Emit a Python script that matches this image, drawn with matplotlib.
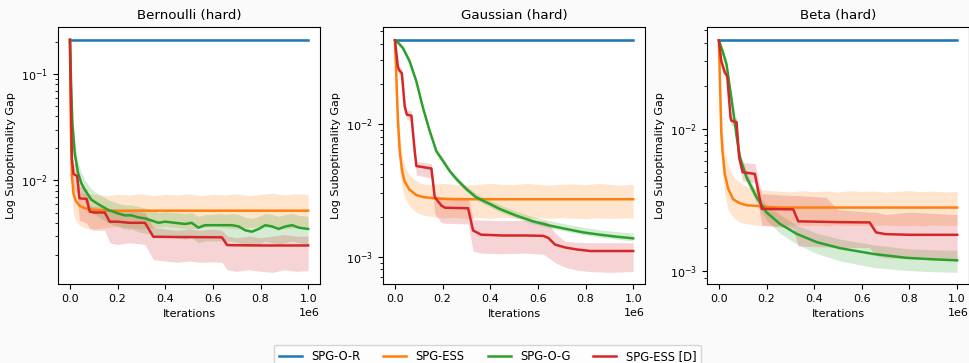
import numpy as np
import matplotlib
matplotlib.use("Agg")
import matplotlib.pyplot as plt

# x values are in millions of iterations
labels = ["SPG-O-R", "SPG-ESS", "SPG-O-G", "SPG-ESS [D]"]
colors = ["tab:blue", "tab:orange", "tab:green", "tab:red"]
titles = ["Bernoulli (hard)", "Gaussian (hard)", "Beta (hard)"]

# ---------------- Bernoulli ----------------
bern_x_blue = [0, 1.0]
bern_blue = [0.21, 0.21]
bern_blue_lo = [0.205, 0.205]
bern_blue_hi = [0.215, 0.215]

bern_x_orange = [0, 0.004, 0.008, 0.015, 0.025, 0.04, 0.06, 0.1, 0.15, 0.2, 0.25, 0.3, 0.35,
                 0.4, 0.45, 0.5, 0.55, 0.6, 0.65, 0.7, 0.75, 0.8, 0.85, 0.9, 0.95, 1.0]
bern_orange = [0.21, 0.03, 0.011, 0.0075, 0.0064, 0.0058, 0.0055, 0.0053, 0.0052, 0.0052,
               0.0052, 0.0052, 0.0052, 0.0052, 0.0052, 0.0052, 0.0052, 0.0052, 0.0052, 0.0052,
               0.0052, 0.0052, 0.0052, 0.0052, 0.0052, 0.0052]
bern_orange_hi = [0.215, 0.045, 0.016, 0.0098, 0.0085, 0.0078, 0.0075, 0.0074, 0.0072, 0.0074,
                  0.0073, 0.0075, 0.0072, 0.0074, 0.0073, 0.0075, 0.0072, 0.0074, 0.0073, 0.0075,
                  0.0072, 0.0074, 0.0076, 0.0073, 0.0075, 0.0074]
bern_orange_lo = [0.205, 0.018, 0.0072, 0.0048, 0.0042, 0.0038, 0.0036, 0.0035, 0.0036, 0.0037,
                  0.0036, 0.0035, 0.0036, 0.0037, 0.0036, 0.0035, 0.0036, 0.0037, 0.0036, 0.0035,
                  0.0036, 0.0037, 0.0036, 0.0035, 0.0036, 0.0036]

bern_x_green = [0, 0.005, 0.01, 0.02, 0.034, 0.048, 0.062, 0.09, 0.118, 0.16, 0.202, 0.23, 0.258,
                0.287, 0.315, 0.343, 0.371, 0.399, 0.441, 0.483, 0.511, 0.539, 0.567, 0.596,
                0.624, 0.652, 0.68, 0.708, 0.736, 0.764, 0.792, 0.82, 0.848, 0.876, 0.905,
                0.933, 0.961, 1.0]
bern_green = [0.21, 0.08, 0.035, 0.018, 0.0118, 0.0094, 0.0082, 0.0066, 0.006, 0.0053, 0.0049,
              0.0047, 0.0047, 0.0045, 0.0044, 0.0042, 0.004, 0.0041, 0.004, 0.0039, 0.004,
              0.0036, 0.0038, 0.0038, 0.0038, 0.0038, 0.0038, 0.0037, 0.0034, 0.0033, 0.0035,
              0.0038, 0.0037, 0.0035, 0.0037, 0.0038, 0.0036, 0.0035]
bern_green_hi = [0.215, 0.1, 0.045, 0.023, 0.0148, 0.0118, 0.0102, 0.0083, 0.0075, 0.0066,
                 0.0061, 0.0059, 0.0059, 0.0057, 0.0055, 0.0053, 0.005, 0.0051, 0.005, 0.0049,
                 0.005, 0.0046, 0.0048, 0.0048, 0.0049, 0.0048, 0.0049, 0.0048, 0.0045, 0.0044,
                 0.0046, 0.0049, 0.0048, 0.0046, 0.0048, 0.0049, 0.0047, 0.0046]
bern_green_lo = [0.205, 0.06, 0.027, 0.014, 0.0092, 0.0074, 0.0064, 0.0051, 0.0046, 0.004,
                 0.0037, 0.0035, 0.0035, 0.0033, 0.0032, 0.0031, 0.0029, 0.003, 0.0029, 0.0028,
                 0.0029, 0.0026, 0.0027, 0.0027, 0.0027, 0.0027, 0.0027, 0.0026, 0.0024, 0.0024,
                 0.0025, 0.0027, 0.0026, 0.0025, 0.0026, 0.0027, 0.0026, 0.0025]

bern_x_red = [0, 0.008, 0.015, 0.03, 0.04, 0.07, 0.083, 0.1, 0.146, 0.167, 0.2, 0.25, 0.315,
              0.35, 0.4, 0.45, 0.5, 0.55, 0.6, 0.638, 0.66, 0.7, 0.75, 0.8, 0.85, 0.9, 0.95, 1.0]
bern_red = [0.21, 0.016, 0.0115, 0.011, 0.0068, 0.0067, 0.0051, 0.005, 0.005, 0.0041, 0.0041,
            0.004, 0.004, 0.00296, 0.00295, 0.00294, 0.00294, 0.00293, 0.00293, 0.00292,
            0.00247, 0.00246, 0.00246, 0.00245, 0.00245, 0.00245, 0.00245, 0.00245]
bern_red_hi = [0.215, 0.021, 0.0145, 0.014, 0.0088, 0.0085, 0.0058, 0.0057, 0.0056, 0.0052,
               0.0051, 0.0052, 0.005, 0.0036, 0.0035, 0.0034, 0.0035, 0.0034, 0.0035, 0.0034,
               0.003, 0.0029, 0.003, 0.0029, 0.003, 0.0031, 0.003, 0.003]
bern_red_lo = [0.205, 0.011, 0.0085, 0.0075, 0.0042, 0.004, 0.0035, 0.0034, 0.0034, 0.0026,
               0.0025, 0.0026, 0.0025, 0.0018, 0.00175, 0.0017, 0.00175, 0.0017, 0.00172, 0.0017,
               0.00145, 0.0014, 0.00145, 0.0014, 0.00137, 0.00145, 0.0014, 0.00142]

# ---------------- Gaussian ----------------
gaus_x_blue = [0, 1.0]
gaus_blue = [0.0425, 0.0425]
gaus_blue_lo = [0.0413, 0.0413]
gaus_blue_hi = [0.0437, 0.0437]

gaus_x_orange = [0, 0.005, 0.012, 0.02, 0.03, 0.04, 0.06, 0.09, 0.12, 0.16, 0.2, 0.25, 0.3,
                 0.35, 0.4, 0.45, 0.5, 0.55, 0.6, 0.65, 0.7, 0.75, 0.8, 0.85, 0.9, 0.95, 1.0]
gaus_orange = [0.0425, 0.025, 0.011, 0.0062, 0.0044, 0.0037, 0.0032, 0.0029, 0.0028, 0.00275,
               0.00272, 0.0027, 0.0027, 0.0027, 0.0027, 0.0027, 0.0027, 0.0027, 0.0027, 0.0027,
               0.0027, 0.0027, 0.0027, 0.0027, 0.0027, 0.0027, 0.0027]
gaus_orange_hi = [0.043, 0.03, 0.014, 0.0082, 0.0058, 0.0048, 0.0041, 0.0037, 0.0035, 0.0035,
                  0.00355, 0.0035, 0.00345, 0.0035, 0.00355, 0.0035, 0.00348, 0.00355, 0.0035,
                  0.00345, 0.0035, 0.00352, 0.00348, 0.00355, 0.0035, 0.00345, 0.0035]
gaus_orange_lo = [0.042, 0.02, 0.0083, 0.0045, 0.0033, 0.0028, 0.0024, 0.00215, 0.00205, 0.002,
                  0.00195, 0.00197, 0.00193, 0.00196, 0.00194, 0.00197, 0.00195, 0.00193,
                  0.00196, 0.00194, 0.00197, 0.00195, 0.00193, 0.00196, 0.00194, 0.00195, 0.00196]

gaus_x_green = [0, 0.015, 0.034, 0.062, 0.09, 0.118, 0.146, 0.174, 0.2, 0.23, 0.26, 0.3, 0.34,
                0.37, 0.4, 0.44, 0.51, 0.58, 0.65, 0.72, 0.79, 0.86, 0.93, 1.0]
gaus_green = [0.0425, 0.0405, 0.037, 0.0294, 0.0208, 0.0131, 0.0088, 0.0062, 0.0053, 0.0044,
              0.0038, 0.00322, 0.0028, 0.00263, 0.00248, 0.00228, 0.00203, 0.00184, 0.00171,
              0.00161, 0.00152, 0.00146, 0.00141, 0.00137]
gaus_green_hi = [0.0428, 0.0415, 0.0385, 0.0307, 0.0218, 0.0137, 0.0092, 0.0065, 0.0056, 0.0046,
                 0.004, 0.0034, 0.00298, 0.0028, 0.00265, 0.00245, 0.00219, 0.00199, 0.00186,
                 0.00175, 0.00166, 0.00159, 0.00154, 0.0015]
gaus_green_lo = [0.0422, 0.0395, 0.0355, 0.0281, 0.0198, 0.0125, 0.0084, 0.0059, 0.005, 0.0042,
                 0.0036, 0.00308, 0.00268, 0.0025, 0.00236, 0.00217, 0.00194, 0.00176, 0.00164,
                 0.00155, 0.00146, 0.0014, 0.00135, 0.00131]

gaus_x_red = [0, 0.012, 0.017, 0.029, 0.041, 0.05, 0.069, 0.083, 0.09, 0.153, 0.167, 0.195,
              0.21, 0.307, 0.328, 0.362, 0.45, 0.55, 0.623, 0.644, 0.672, 0.714, 0.763, 0.82,
              0.9, 1.0]
gaus_red = [0.0425, 0.027, 0.0254, 0.024, 0.0135, 0.0117, 0.0115, 0.0062, 0.0048, 0.0046, 0.0028,
            0.00242, 0.00233, 0.00231, 0.00157, 0.00146, 0.00144, 0.00144, 0.00143, 0.00138,
            0.00123, 0.00117, 0.00113, 0.0011, 0.0011, 0.0011]
gaus_red_hi = [0.0428, 0.029, 0.0272, 0.026, 0.0147, 0.0127, 0.0125, 0.007, 0.0052, 0.005,
               0.0029, 0.0028, 0.0028, 0.0028, 0.0019, 0.00188, 0.00186, 0.00187, 0.00186,
               0.0018, 0.0015, 0.0013, 0.00128, 0.00127, 0.00127, 0.00127]
gaus_red_lo = [0.0422, 0.025, 0.0235, 0.0222, 0.0125, 0.0108, 0.0105, 0.0055, 0.0041, 0.0039,
               0.0021, 0.0018, 0.00178, 0.00176, 0.0011, 0.00106, 0.00105, 0.00106, 0.00104,
               0.00098, 0.0009, 0.00083, 0.00079, 0.00077, 0.00076, 0.00077]

# ---------------- Beta ----------------
beta_x_blue = [0, 1.0]
beta_blue = [0.042, 0.042]
beta_blue_lo = [0.0408, 0.0408]
beta_blue_hi = [0.0432, 0.0432]

beta_x_orange = [0, 0.005, 0.01, 0.015, 0.025, 0.039, 0.06, 0.088, 0.12, 0.158, 0.2, 0.25, 0.3,
                 0.35, 0.4, 0.45, 0.5, 0.55, 0.6, 0.65, 0.7, 0.75, 0.8, 0.85, 0.9, 0.95, 1.0]
beta_orange = [0.042, 0.02, 0.0095, 0.007, 0.0048, 0.0038, 0.0032, 0.003, 0.0029, 0.00288,
               0.00283, 0.0028, 0.0028, 0.0028, 0.0028, 0.0028, 0.0028, 0.0028, 0.0028, 0.0028,
               0.0028, 0.0028, 0.0028, 0.0028, 0.0028, 0.0028, 0.0028]
beta_orange_hi = [0.0425, 0.026, 0.0125, 0.0095, 0.0068, 0.0055, 0.0046, 0.0042, 0.0039, 0.0038,
                  0.0037, 0.00365, 0.0036, 0.00368, 0.00362, 0.00366, 0.0036, 0.00368, 0.00363,
                  0.00366, 0.0036, 0.00365, 0.00368, 0.00362, 0.00366, 0.0036, 0.00365]
beta_orange_lo = [0.0415, 0.015, 0.007, 0.005, 0.0034, 0.0027, 0.0024, 0.0022, 0.00215, 0.0021,
                  0.0021, 0.00208, 0.00211, 0.00209, 0.0021, 0.00208, 0.00211, 0.00209, 0.0021,
                  0.00208, 0.00211, 0.00209, 0.0021, 0.00208, 0.00211, 0.00209, 0.0021]

beta_x_green = [0, 0.016, 0.032, 0.046, 0.06, 0.073, 0.088, 0.116, 0.158, 0.2, 0.256, 0.326,
                0.41, 0.508, 0.648, 0.787, 0.9, 1.0]
beta_green = [0.042, 0.035, 0.0285, 0.0195, 0.0134, 0.0092, 0.0063, 0.00457, 0.00331, 0.00259,
              0.00215, 0.00183, 0.0016, 0.00145, 0.00132, 0.00124, 0.00121, 0.00119]
beta_green_hi = [0.0425, 0.0375, 0.0305, 0.021, 0.0145, 0.01, 0.0069, 0.005, 0.0036, 0.0029,
                 0.0025, 0.0021, 0.00185, 0.00168, 0.00153, 0.00144, 0.00141, 0.0014]
beta_green_lo = [0.0415, 0.0328, 0.0265, 0.0181, 0.0124, 0.0085, 0.0058, 0.0042, 0.003, 0.00228,
                 0.00185, 0.00155, 0.00133, 0.00118, 0.00106, 0.00101, 0.00099, 0.00098]

beta_x_red = [0, 0.01, 0.025, 0.035, 0.049, 0.053, 0.074, 0.085, 0.1, 0.151, 0.18, 0.312, 0.333,
              0.45, 0.5, 0.633, 0.66, 0.7, 0.8, 1.0]
beta_red = [0.042, 0.03, 0.0249, 0.0236, 0.012, 0.0114, 0.0112, 0.0063, 0.00496, 0.00483,
            0.00274, 0.00272, 0.00224, 0.00222, 0.00221, 0.0022, 0.00187, 0.00182, 0.0018, 0.0018]
beta_red_hi = [0.0425, 0.032, 0.0267, 0.0253, 0.0129, 0.0122, 0.012, 0.0072, 0.0058, 0.0057,
               0.0035, 0.0034, 0.0034, 0.0033, 0.0027, 0.0026, 0.0026, 0.0025, 0.0026, 0.0025]
beta_red_lo = [0.0415, 0.028, 0.0232, 0.022, 0.0111, 0.0106, 0.0104, 0.0055, 0.0043, 0.0042,
               0.0021, 0.002, 0.0015, 0.00148, 0.00147, 0.00146, 0.00128, 0.00124, 0.00122, 0.00121]

panels = [
    [(bern_x_blue, bern_blue, bern_blue_lo, bern_blue_hi),
     (bern_x_orange, bern_orange, bern_orange_lo, bern_orange_hi),
     (bern_x_green, bern_green, bern_green_lo, bern_green_hi),
     (bern_x_red, bern_red, bern_red_lo, bern_red_hi)],
    [(gaus_x_blue, gaus_blue, gaus_blue_lo, gaus_blue_hi),
     (gaus_x_orange, gaus_orange, gaus_orange_lo, gaus_orange_hi),
     (gaus_x_green, gaus_green, gaus_green_lo, gaus_green_hi),
     (gaus_x_red, gaus_red, gaus_red_lo, gaus_red_hi)],
    [(beta_x_blue, beta_blue, beta_blue_lo, beta_blue_hi),
     (beta_x_orange, beta_orange, beta_orange_lo, beta_orange_hi),
     (beta_x_green, beta_green, beta_green_lo, beta_green_hi),
     (beta_x_red, beta_red, beta_red_lo, beta_red_hi)],
]

fig = plt.figure(figsize=(9.69, 3.63), dpi=100, facecolor="#fafafa")
lefts = [0.0599, 0.3953, 0.7296]

for i, series in enumerate(panels):
    ax = fig.add_axes([lefts[i], 0.2176, 0.2704, 0.708])
    for (x, mean, lo, hi), c, lab in zip(series, colors, labels):
        xs = np.array(x) * 1e6
        ax.plot(xs, mean, color=c, lw=1.8, label=lab)
        ax.fill_between(xs, lo, hi, color=c, alpha=0.2, lw=0)
    ax.set_yscale("log")
    ax.set_title(titles[i], fontsize=9.6)
    ax.set_xlabel("Iterations", fontsize=8)
    ax.set_ylabel("Log Suboptimality Gap", fontsize=8)
    ax.tick_params(labelsize=8)
    ax.xaxis.get_offset_text().set_fontsize(8)

handles, labs = ax.get_legend_handles_labels()
fig.legend(handles, labs, loc="upper center", bbox_to_anchor=(0.503, 0.065), ncol=4,
           fontsize=8.3, frameon=True)

fig.savefig("out.png", dpi=100, facecolor=fig.get_facecolor())
